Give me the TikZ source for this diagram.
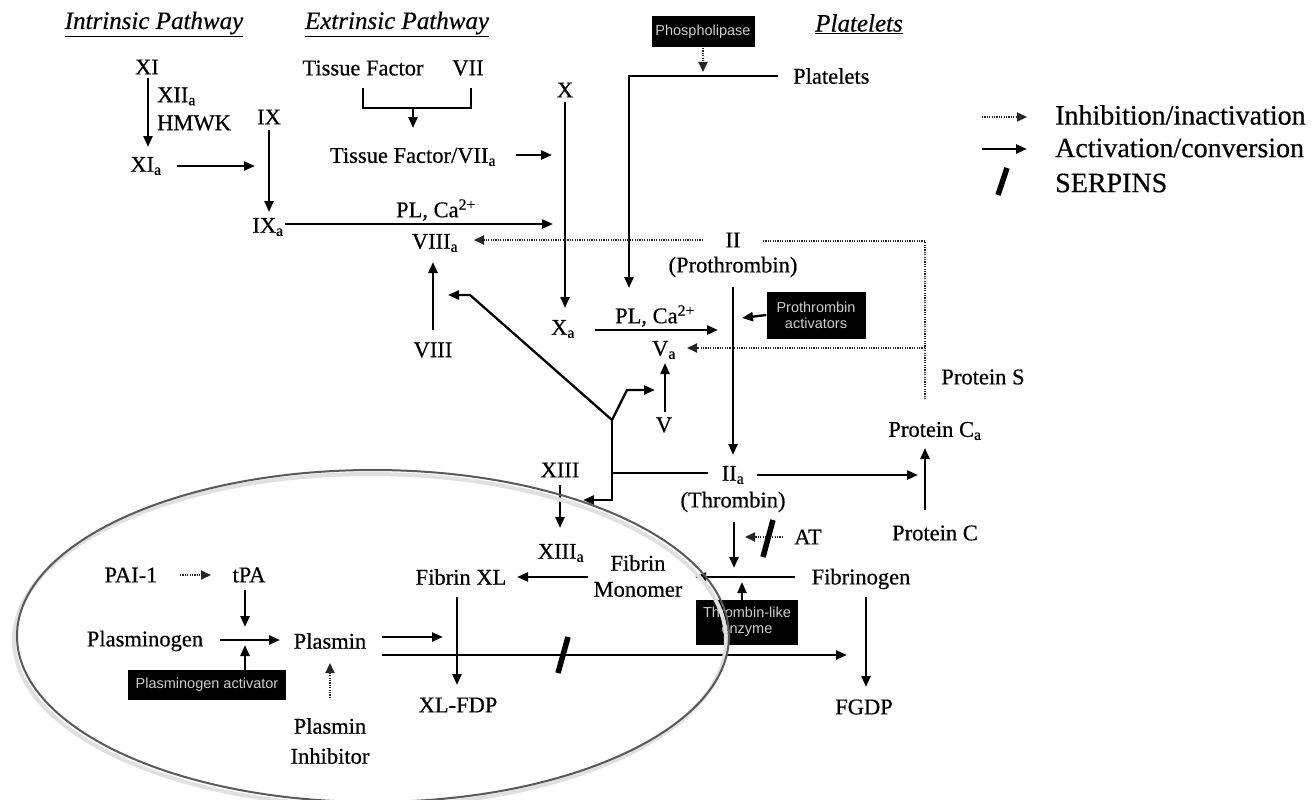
\documentclass[tikz,border=0pt]{standalone}
\usepackage{fontspec}
\setmainfont{Liberation Serif}[FakeBold=0.5]
\newfontfamily\boxfont{Liberation Sans}
\usetikzlibrary{arrows.meta}
\newcommand{\sba}{\textsubscript{a}}
\begin{document}
\begin{tikzpicture}[x=1pt,y=-1pt,
  lbl/.style={font=\fontsize{22.5}{27}\selectfont, inner sep=1pt},
  hdr/.style={font=\fontsize{25}{27}\selectfont\itshape, inner sep=1pt},
  leg/.style={font=\fontsize{28}{30}\selectfont, inner sep=0pt, anchor=west},
  blk/.style={fill=black, text=white!80!black, font=\boxfont\fontsize{14.5}{16}\selectfont, inner sep=1pt, align=center},
  act/.style={line width=2.3pt, -{Triangle[length=11pt,width=9pt]}},
  inh/.style={line width=1.9pt, dash pattern=on 1.2pt off 1.2pt, draw=black!85, -{Triangle[length=10pt,width=9pt]}},
  ln/.style={line width=2.3pt},
  dln/.style={line width=1.9pt, dash pattern=on 1.2pt off 1.2pt, draw=black!85},
  serp/.style={line width=5.5pt},
  oval/.style={draw=black!65, line width=2pt},
  ovalshadow/.style={draw=black!12, line width=4pt}
]
\fill[white] (0,0) rectangle (1312,800);
\useasboundingbox (0,0) rectangle (1312,800);

% headers
\node[hdr] (hInt) at (154,24) {\underline{Intrinsic Pathway}};
\node[hdr] (hExt) at (397,24) {\underline{Extrinsic Pathway}};
\node[hdr] (hPlt) at (859,24) {\underline{Platelets}};

% nodes
\node[lbl] (XI) at (147,67) {XI};
\node[lbl, align=left, anchor=west, font=\fontsize{22.5}{28}\selectfont] (XIIa) at (156,109) {XII\sba\\HMWK};
\node[lbl] (XIa) at (146,166) {XI\sba};
\node[lbl] (IX) at (269,117) {IX};
\node[lbl] (IXa) at (268,227) {IX\sba};
\node[lbl] (TF) at (363,68) {Tissue Factor};
\node[lbl] (VII) at (468,68) {VII};
\node[lbl] (TFVIIa) at (413,157) {Tissue Factor/VII\sba};
\node[lbl] (X) at (565,90) {X};
\node[lbl] (PL1) at (436,210) {PL, Ca\textsuperscript{2+}};
\node[lbl] (VIIIa) at (435,243) {VIII\sba};
\node[lbl] (II) at (733,240) {II};
\node[lbl] (Proth) at (733,267) {(Prothrombin)};
\node[blk, minimum width=103, minimum height=31] (Phos) at (703,32) {Phospholipase};
\node[lbl, anchor=west] (Plt) at (792,76) {Platelets};
\node[lbl] (Xa) at (563,329) {X\sba};
\node[lbl] (PL2) at (655,316) {PL, Ca\textsuperscript{2+}};
\node[lbl] (Va) at (664,350) {V\sba};
\node[blk, minimum width=99, minimum height=47] (PA) at (816,315) {Prothrombin\\activators};
\node[lbl] (VIII) at (433,350) {VIII};
\node[lbl] (V) at (664,425) {V};
\node[lbl] (ProtS) at (983,377) {Protein S};
\node[lbl] (ProtCa) at (935,431) {Protein C\sba};
\node[lbl] (ProtC) at (935,533) {Protein C};
\node[lbl] (IIa) at (733,475) {II\sba};
\node[lbl] (Thr) at (733,502) {(Thrombin)};
\node[lbl] (XIII) at (560,470) {XIII};
\node[lbl] (XIIIa) at (561,553) {XIII\sba};
\node[lbl, align=center, font=\fontsize{22.5}{26}\selectfont] (FM) at (638,576) {Fibrin\\Monomer};
\node[lbl] (AT) at (808,537) {AT};
\node[lbl] (Fgen) at (861,579) {Fibrinogen};
\node[blk, minimum width=102, minimum height=45] (TLE) at (747,622) {Thrombin-like\\enzyme};
\node[lbl] (FGDP) at (864,707) {FGDP};
\node[lbl] (FXL) at (461,577) {Fibrin XL};
\node[lbl] (XLFDP) at (458,705) {XL-FDP};
\node[lbl] (PAI) at (131,575) {PAI-1};
\node[lbl] (tPA) at (249,575) {tPA};
\node[lbl] (Pgen) at (145,641) {Plasminogen};
\node[lbl] (Pmin) at (330,641) {Plasmin};
\node[blk, minimum width=158, minimum height=30] (PgA) at (207,685) {Plasminogen activator};
\node[lbl, align=center, font=\fontsize{22.5}{30}\selectfont] (PI) at (330,741) {Plasmin\\Inhibitor};

% legend
\coordinate (lg1a) at (982,117); \coordinate (lg1b) at (1027,117);
\coordinate (lg2a) at (982,149); \coordinate (lg2b) at (1027,149);
\coordinate (lg3a) at (998,195); \coordinate (lg3b) at (1007,168);
\draw[inh] (lg1a) -- (lg1b);
\draw[act] (lg2a) -- (lg2b);
\draw[serp] (lg3a) -- (lg3b);
\node[leg] (L1) at (1055,115) {Inhibition/inactivation};
\node[leg] (L2) at (1055,148) {Activation/conversion};
\node[leg] (L3) at (1055,183) {SERPINS};

% coordinates for connectors
\coordinate (a1s) at (148,78);  \coordinate (a1e) at (148,147);
\coordinate (a2s) at (177,166); \coordinate (a2e) at (255,166);
\coordinate (a3s) at (269,130); \coordinate (a3e) at (269,212);
\coordinate (a4s) at (285,224); \coordinate (a4e) at (553,224);
\coordinate (b1) at (363,88); \coordinate (b2) at (363,108);
\coordinate (b3) at (471,108); \coordinate (b4) at (471,88);
\coordinate (bm) at (413,108); \coordinate (bme) at (413,128);
\coordinate (a5s) at (516,155); \coordinate (a5e) at (552,155);
\coordinate (a6s) at (565,102); \coordinate (a6e) at (565,308);
\coordinate (ph1) at (703,48); \coordinate (ph2) at (703,72);
\coordinate (pl1) at (778,76); \coordinate (pl2) at (629,76); \coordinate (pl3) at (629,288);
\coordinate (d1s) at (703,240); \coordinate (d1e) at (474,240);
\coordinate (d2s) at (763,241); \coordinate (d2c) at (925,241); \coordinate (d2b) at (925,400);
\coordinate (d3s) at (925,348); \coordinate (d3e) at (687,348);
\coordinate (a7s) at (433,330); \coordinate (a7e) at (433,262);
\coordinate (a8s) at (595,330); \coordinate (a8e) at (718,330);
\coordinate (a9s) at (733,287); \coordinate (a9e) at (733,455);
\coordinate (a10e) at (742,318);
\coordinate (y0) at (612,420); \coordinate (yL1) at (470,295); \coordinate (yL2) at (448,295);
\coordinate (yR1) at (627,390); \coordinate (yR2) at (655,390);
\coordinate (yB) at (612,500); \coordinate (yBe) at (583,500);
\coordinate (h1) at (708,473); \coordinate (h2) at (612,473);
\coordinate (a11s) at (665,412); \coordinate (a11e) at (665,363);
\coordinate (a12s) at (757,475); \coordinate (a12e) at (918,475);
\coordinate (a13s) at (925,510); \coordinate (a13e) at (925,448);
\coordinate (a14s) at (560,485); \coordinate (a14e) at (560,528);
\coordinate (a15s) at (734,522); \coordinate (a15e) at (734,568);
\coordinate (ats) at (783,537); \coordinate (ate) at (745,537);
\coordinate (s1a) at (763,557); \coordinate (s1b) at (773,520);
\coordinate (fgs) at (795,577); \coordinate (fge) at (695,577);
\coordinate (tls) at (742,600); \coordinate (tle) at (742,582);
\coordinate (fms) at (588,577); \coordinate (fme) at (517,577);
\coordinate (fxs) at (457,597); \coordinate (fxe) at (457,685);
\coordinate (gds) at (866,597); \coordinate (gde) at (866,687);
\coordinate (pu1) at (382,637); \coordinate (pu2) at (443,637);
\coordinate (pd1) at (382,655); \coordinate (pd2) at (847,655);
\coordinate (s2a) at (558,673); \coordinate (s2b) at (568,637);
\coordinate (pai1) at (180,575); \coordinate (pai2) at (211,575);
\coordinate (tp1) at (245,590); \coordinate (tp2) at (245,627);
\coordinate (pg1) at (220,640); \coordinate (pg2) at (280,640);
\coordinate (pa1) at (245,670); \coordinate (pa2) at (245,645);
\coordinate (pi1) at (330,698); \coordinate (pi2) at (330,663);

% connectors
\draw[act] (a1s) -- (a1e);
\draw[act] (a2s) -- (a2e);
\draw[act] (a3s) -- (a3e);
\draw[act] (a4s) -- (a4e);
\draw[ln] (b1) -- (b2) -- (b3) -- (b4);
\draw[act] (bm) -- (bme);
\draw[act] (a5s) -- (a5e);
\draw[act] (a6s) -- (a6e);
\draw[inh] (ph1) -- (ph2);
\draw[act] (pl1) -- (pl2) -- (pl3);
\draw[inh] (d1s) -- (d1e);
\draw[dln] (d2s) -- (d2c) -- (d2b);
\draw[inh] (d3s) -- (d3e);
\draw[act] (a7s) -- (a7e);
\draw[act] (a8s) -- (a8e);
\draw[act] (a9s) -- (a9e);
\draw[act] (PA.west) -- (a10e);
\draw[act] (y0) -- (yL1) -- (yL2);
\draw[act] (y0) -- (yR1) -- (yR2);
\draw[act] (y0) -- (yB) -- (yBe);
\draw[ln] (h1) -- (h2);
\draw[act] (a11s) -- (a11e);
\draw[act] (a12s) -- (a12e);
\draw[act] (a13s) -- (a13e);
\draw[act] (a14s) -- (a14e);
\draw[act] (a15s) -- (a15e);
\draw[inh] (ats) -- (ate);
\draw[serp] (s1a) -- (s1b);
\draw[act] (fgs) -- (fge);
\draw[act] (tls) -- (tle);
\draw[act] (fms) -- (fme);
\draw[act] (fxs) -- (fxe);
\draw[act] (gds) -- (gde);
\draw[act] (pu1) -- (pu2);
\draw[act] (pd1) -- (pd2);
\draw[serp] (s2a) -- (s2b);
\draw[inh] (pai1) -- (pai2);
\draw[act] (tp1) -- (tp2);
\draw[act] (pg1) -- (pg2);
\draw[act] (pa1) -- (pa2);
\draw[inh] (pi1) -- (pi2);

% fibrinolysis oval
\draw[ovalshadow] (370,640) ellipse [x radius=356, y radius=166];
\draw[oval] (373,636) ellipse [x radius=356, y radius=166];
\end{tikzpicture}
\end{document}
